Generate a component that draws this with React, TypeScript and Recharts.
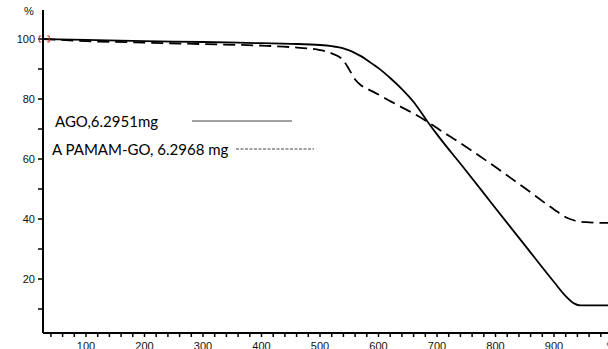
import {
  LineChart,
  Line,
  XAxis,
  YAxis,
  ReferenceDot,
} from "recharts";

// temperature (°C) and mass remaining (%)
const temps = [
  27, 100, 200, 300, 400, 450, 500, 520, 540, 550, 560, 570, 580, 600, 620,
  640, 660, 683, 700, 750, 800, 850, 900, 920, 935, 945, 960, 990, 1012,
];
const agoMass = [
  100, 99.7, 99.3, 99.0, 98.6, 98.4, 98.0, 97.6, 96.9, 96.2, 95.3, 94.3, 93.0,
  90.3, 87.0, 83.3, 79.0, 72.7, 68.2, 56.0, 43.6, 31.3, 19.0, 14.3, 11.8, 11.2,
  11.2, 11.2, 11.2,
];
const pamamMass = [
  100, 99.3, 98.8, 98.3, 97.8, 97.3, 96.3, 95.2, 92.8, 89.8, 86.5, 84.6, 83.5,
  81.5, 79.3, 77.2, 75.2, 72.5, 70.3, 64.0, 57.3, 50.3, 43.2, 40.6, 39.5, 39.1,
  38.9, 38.7, 38.7,
];

const xTicks = Array.from({ length: 49 }, (_, i) => 40 + i * 20);
const yTicks = [10, 20, 30, 40, 50, 60, 70, 80, 90, 100];

const data = temps.map((t, i) => ({ t, ago: agoMass[i], pamam: pamamMass[i] }));

const labelFont = "'Liberation Sans', Arial, sans-serif";

function ChartLegend() {
  return (
    <div style={{ position: "absolute", left: 0, top: 0, width: 608, height: 349, fontFamily: "Lato, sans-serif", fontSize: 15, color: "#000", pointerEvents: "none" }}>
      <span style={{ position: "absolute", left: 55, top: 112, whiteSpace: "nowrap" }}>AGO,6.2951mg</span>
      <svg style={{ position: "absolute", left: 190, top: 118 }} width={104} height={6}>
        <line x1={2} y1={3} x2={102} y2={3} stroke="#444" strokeWidth={1} />
      </svg>
      <span style={{ position: "absolute", left: 52, top: 140, whiteSpace: "nowrap" }}>A PAMAM-GO, 6.2968 mg</span>
      <svg style={{ position: "absolute", left: 234, top: 146 }} width={82} height={6}>
        <line x1={2} y1={3} x2={80} y2={3} stroke="#444" strokeWidth={1} strokeDasharray="3 1.5" />
      </svg>
    </div>
  );
}

function StartMark(props: any) {
  const { cx, cy } = props;
  return (
    <g stroke="#e02020" strokeWidth={1} fill="none">
      <path d={`M${cx - 2},${cy - 3} L${cx - 4},${cy - 3} L${cx - 4},${cy + 3} L${cx - 2},${cy + 3}`} />
      <path d={`M${cx + 4},${cy - 3} L${cx + 6},${cy - 3} L${cx + 6},${cy + 3} L${cx + 4},${cy + 3}`} />
    </g>
  );
}

export default function App() {
  return (
    <div style={{ position: "relative", width: 608, height: 349, overflow: "hidden", background: "#fff" }}>
      <style>{`body{margin:0}`}</style>
      <div style={{ position: "absolute", left: 24, top: 5, fontFamily: labelFont, fontSize: 11, color: "#111" }}>%</div>
      <LineChart
        width={620}
        height={349}
        data={data}
        margin={{ top: 10, right: 0, bottom: 0, left: 0 }}
      >
        <XAxis
          dataKey="t"
          type="number"
          domain={[26.5, 1012.8]}
          ticks={xTicks}
          interval={0}
          allowDataOverflow
          height={16}
          tickSize={4}
          tickMargin={5}
          axisLine={{ stroke: "#000", strokeWidth: 2 }}
          tickLine={{ stroke: "#000", strokeWidth: 1.5 }}
          tick={{ fill: "#111", fontSize: 11, fontFamily: labelFont }}
          tickFormatter={(v: number) => (v === 1000 ? "°C" : v % 100 === 0 ? String(v) : "")}
        />
        <YAxis
          type="number"
          domain={[2, 109.67]}
          ticks={yTicks}
          interval={0}
          allowDataOverflow
          width={43}
          tickSize={5}
          tickMargin={3}
          axisLine={{ stroke: "#000", strokeWidth: 2 }}
          tickLine={{ stroke: "#000", strokeWidth: 1.5 }}
          tick={{ fill: "#111", fontSize: 11, fontFamily: labelFont }}
          tickFormatter={(v: number) => (v % 20 === 0 ? String(v) : "")}
        />
        <Line
          dataKey="ago"
          type="monotone"
          stroke="#000"
          strokeWidth={1.8}
          dot={false}
          isAnimationActive={false}
        />
        <Line
          dataKey="pamam"
          type="monotone"
          stroke="#000"
          strokeWidth={1.8}
          strokeDasharray="12 6"
          dot={false}
          isAnimationActive={false}
        />
        <ReferenceDot x={temps[0]} y={agoMass[0]} r={3} shape={StartMark} />
      </LineChart>
      <ChartLegend />
    </div>
  );
}
